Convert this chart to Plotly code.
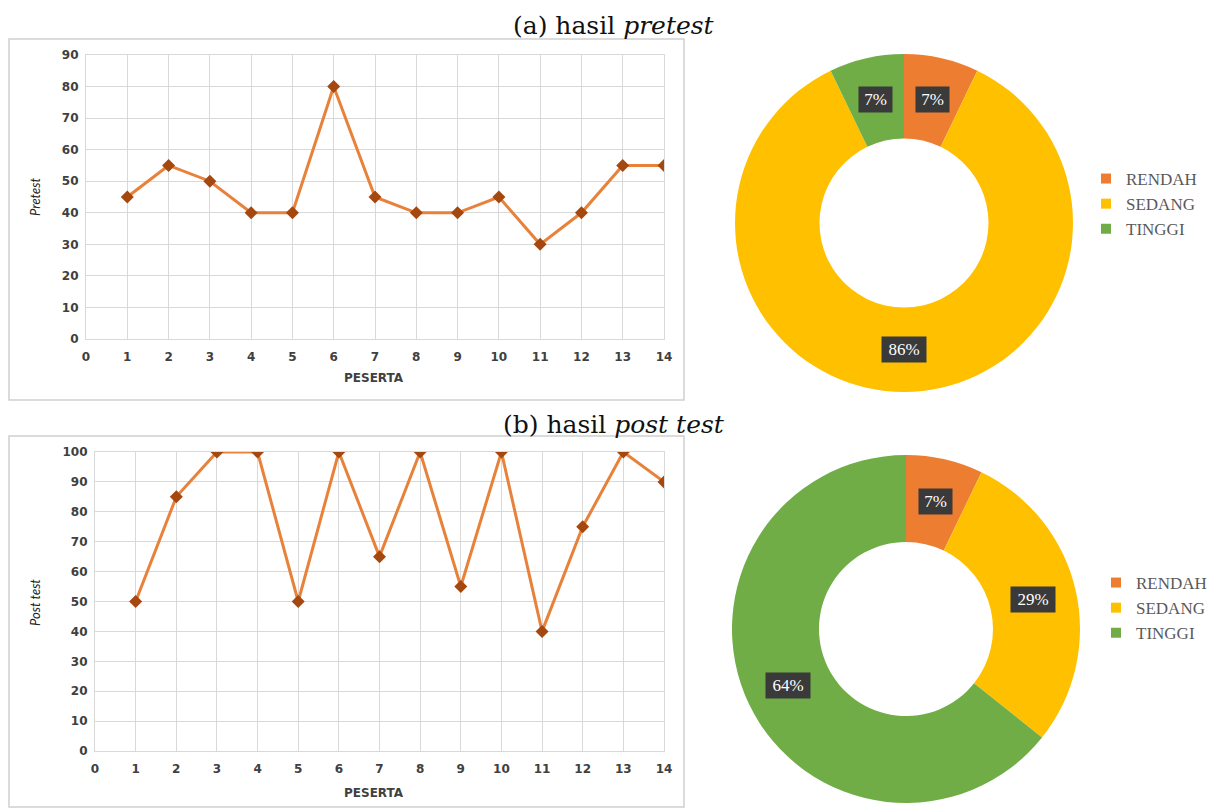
import math
import plotly.graph_objects as go

# ---- data ----
peserta = list(range(1, 15))
pretest = [45, 55, 50, 40, 40, 80, 45, 40, 40, 45, 30, 40, 55, 55]
posttest = [50, 85, 100, 100, 50, 100, 65, 100, 55, 100, 40, 75, 100, 90]

kategori = ["RENDAH", "SEDANG", "TINGGI"]
pre_counts = [1, 12, 1]
post_counts = [1, 4, 9]
warna = ["#ED7D31", "#FFC000", "#70AD47"]

W, H = 1212, 810
LINE_COLOR = "#E8823A"
MARKER_COLOR = "#A5480F"
GRID = "#D9D9D9"
TICK_FONT = dict(family="DejaVu Sans", size=12, color="#404040", weight="bold")
SERIF = "Liberation Serif"


def px_x(x):
    return x / W


def px_y(y):
    return 1 - y / H


def label(x, y, text, font, **kw):
    """Text placed by pixel position, centred on the point."""
    fig.add_annotation(x=px_x(x), y=px_y(y), xref="paper", yref="paper",
                       xanchor="center", yanchor="middle",
                       text=text, showarrow=False, font=font, **kw)


fig = go.Figure()

# line charts
fig.add_trace(go.Scatter(
    x=peserta, y=pretest, mode="lines+markers", xaxis="x", yaxis="y",
    line=dict(color=LINE_COLOR, width=3),
    marker=dict(symbol="diamond", size=10, color=MARKER_COLOR),
    showlegend=False))
fig.add_trace(go.Scatter(
    x=peserta, y=posttest, mode="lines+markers", xaxis="x2", yaxis="y2",
    line=dict(color=LINE_COLOR, width=3),
    marker=dict(symbol="diamond", size=10, color=MARKER_COLOR),
    showlegend=False))

# donut charts: (center x, center y, radius) in pixels
pies = [
    (pre_counts, (904, 223, 169), "legend"),
    (post_counts, (906, 629, 174), "legend2"),
]
HOLE = 0.5
for counts, (cx, cy, r), leg in pies:
    fig.add_trace(go.Pie(
        labels=kategori, values=counts, hole=HOLE, sort=False,
        direction="clockwise", rotation=0,
        marker=dict(colors=warna, line=dict(width=0)),
        textinfo="none", hoverinfo="label+percent",
        domain=dict(x=[px_x(cx - r), px_x(cx + r)],
                    y=[px_y(cy + r), px_y(cy - r)]),
        showlegend=False))

    # legend entries (one set per donut, in its own legend box)
    for nama, c in zip(kategori, warna):
        fig.add_trace(go.Scatter(
            x=[None], y=[None], mode="markers", name=nama,
            marker=dict(symbol="square", size=10, color=c),
            legend=leg, showlegend=True, hoverinfo="skip"))

    # percentage labels in dark boxes at the middle of each ring segment
    total = sum(counts)
    cum = 0
    rm = r * (1 + HOLE) / 2
    for v in counts:
        mid = (cum + v / 2) / total * 2 * math.pi
        cum += v
        lx = cx + rm * math.sin(mid)
        ly = cy - rm * math.cos(mid)
        txt = f"{round(100 * v / total)}%"
        label(lx, ly, txt, dict(family=SERIF, size=17, color="white"),
              bgcolor="#3A3A3A", borderpad=3,
              width=11 * len(txt) + 5, height=19)

axis_common = dict(
    showgrid=True, gridcolor=GRID, gridwidth=1.2, zeroline=False,
    showline=True, linecolor=GRID, linewidth=1.2, mirror=True,
    ticks="", tickfont=TICK_FONT)

legend_font = dict(family=SERIF, size=17, color="#595959")
fig.update_layout(
    width=W, height=H,
    margin=dict(l=0, r=0, t=0, b=0, autoexpand=False),
    paper_bgcolor="white", plot_bgcolor="white",
    xaxis=dict(axis_common, domain=[px_x(86), px_x(664)], range=[0, 14],
               tick0=0, dtick=1, anchor="y", ticklabelstandoff=6),
    yaxis=dict(axis_common, domain=[px_y(339), px_y(55)], range=[0, 90],
               tick0=0, dtick=10, anchor="x", ticklabelstandoff=4),
    xaxis2=dict(axis_common, domain=[px_x(95), px_x(664)], range=[0, 14],
                tick0=0, dtick=1, anchor="y2", ticklabelstandoff=6),
    yaxis2=dict(axis_common, domain=[px_y(751), px_y(452)], range=[0, 100],
                tick0=0, dtick=10, anchor="x2", ticklabelstandoff=4),
    legend=dict(x=px_x(1086), y=px_y(161), xanchor="left", yanchor="top",
                font=legend_font, bgcolor="rgba(0,0,0,0)", tracegroupgap=0),
    legend2=dict(x=px_x(1096), y=px_y(565), xanchor="left", yanchor="top",
                 font=legend_font, bgcolor="rgba(0,0,0,0)", tracegroupgap=0),
)

# chart frames around the line charts
for y0, y1 in [(39, 400), (436, 807)]:
    fig.add_shape(type="rect", xref="paper", yref="paper",
                  x0=px_x(9), x1=px_x(684), y0=px_y(y1), y1=px_y(y0),
                  line=dict(color="#D0D0D0", width=1.5))

# panel titles
title_font = dict(family="DejaVu Serif", size=25, color="#111111")
label(614, 25, "(a) hasil <i>pretest</i>", title_font)
label(614, 424, "(b) hasil <i>post test</i>", title_font)

# axis titles
for yy in (378, 793):
    label(374, yy, "PESERTA", TICK_FONT)
ytitle_font = dict(family="Lato", size=13, color="#222222")
label(35, 197, "<i>Pretest</i>", ytitle_font, textangle=-90)
label(35, 603, "<i>Post test</i>", ytitle_font, textangle=-90)

fig.write_html("out.html")
